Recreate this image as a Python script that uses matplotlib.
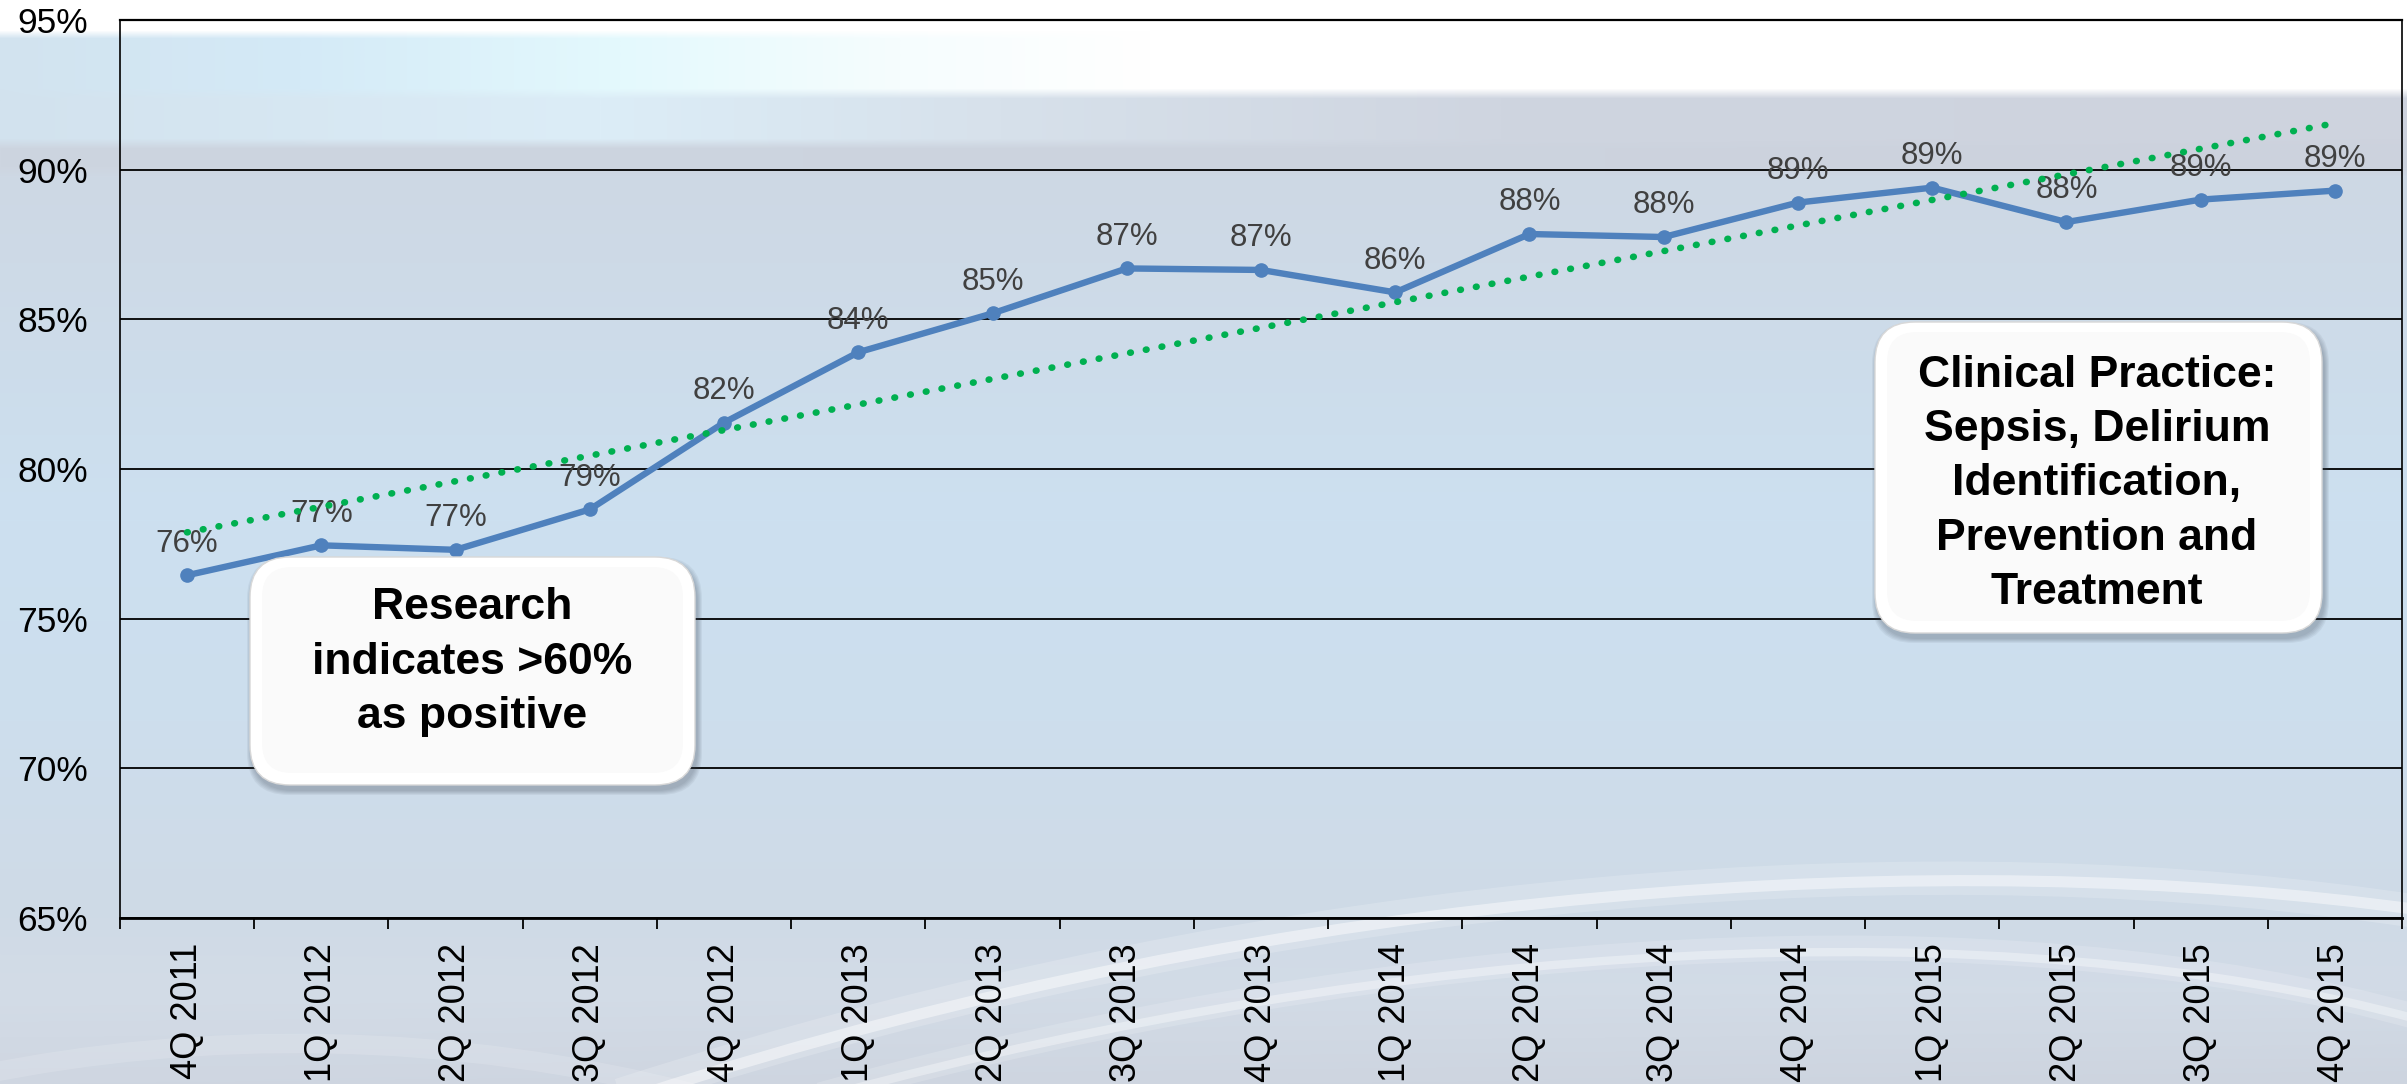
import numpy as np
import matplotlib
matplotlib.use('Agg')
import matplotlib.pyplot as plt
from matplotlib.patches import FancyBboxPatch, PathPatch
from matplotlib.path import Path

plt.rcParams['font.family'] = ['Liberation Sans', 'DejaVu Sans']

# data
quarters = ['4Q 2011', '1Q 2012', '2Q 2012', '3Q 2012', '4Q 2012', '1Q 2013',
            '2Q 2013', '3Q 2013', '4Q 2013', '1Q 2014', '2Q 2014', '3Q 2014',
            '4Q 2014', '1Q 2015', '2Q 2015', '3Q 2015', '4Q 2015']
scores = [76.45, 77.45, 77.3, 78.65, 81.55, 83.9, 85.2, 86.7, 86.65, 85.9,
          87.85, 87.75, 88.9, 89.4, 88.25, 89.0, 89.3]
y_ticks = [65, 70, 75, 80, 85, 90, 95]
note_left = 'Research\nindicates >60%\nas positive'
note_right = 'Clinical Practice:\nSepsis, Delirium\nIdentification,\nPrevention and\nTreatment'

W, H = 2407, 1084
fig = plt.figure(figsize=(W / 100, H / 100), dpi=100)


def hexrgb(h):
    return np.array([int(h[i:i + 2], 16) for i in (1, 3, 5)]) / 255.0


xs = np.arange(W)


def row_colors(stops):
    px = [s[0] for s in stops]
    cols = np.array([hexrgb(s[1]) for s in stops])
    return np.stack([np.interp(xs, px, cols[:, c]) for c in range(3)], axis=1)


# background: slide template gradient
white = row_colors([(0, '#FFFFFF'), (W, '#FFFFFF')])
top_band = row_colors([(0, '#D2E3EF'), (300, '#D4EAF7'), (620, '#E4F9FD'),
                       (900, '#F6FDFE'), (1150, '#FFFFFF'), (W, '#FFFFFF')])
mid_band = row_colors([(0, '#D2E2EE'), (600, '#DCEDF7'), (1000, '#D7E1EB'),
                       (1500, '#CFD5E0'), (W, '#CED3DE')])
gray_band = row_colors([(0, '#CDD5E0'), (W, '#CCD2DD')])
blue1 = row_colors([(0, '#CED8E4'), (W, '#CED8E4')])
blue2 = row_colors([(0, '#CDDCEA'), (W, '#CDDCEA')])
blue3 = row_colors([(0, '#CCE0F0'), (W, '#CCE0F0')])
blue4 = row_colors([(0, '#CDDEED'), (W, '#CDDEED')])
blue5 = row_colors([(0, '#CFDAE6'), (W, '#CFDAE6')])
blue6 = row_colors([(0, '#D3DCE7'), (W, '#D2DBE6')])
blue7 = row_colors([(0, '#CFD6E1'), (W, '#CDD4DF')])

band_y = [0, 30, 38, 88, 98, 138, 148, 166, 176, 350, 520, 720, 918, 990, 1084]
band_c = [white, white, top_band, top_band, mid_band, mid_band, gray_band,
          gray_band, blue1, blue2, blue3, blue4, blue5, blue6, blue7]

img = np.zeros((H, W, 3))
for y in range(H):
    k = np.searchsorted(band_y, y, side='right') - 1
    k = min(k, len(band_y) - 2)
    t = (y - band_y[k]) / (band_y[k + 1] - band_y[k])
    img[y] = (1 - t) * band_c[k] + t * band_c[k + 1]

bg = fig.add_axes([0, 0, 1, 1])
bg.imshow(img, extent=(0, W, H, 0), aspect='auto')
bg.set_xlim(0, W)
bg.set_ylim(H, 0)
bg.axis('off')

# white swooshes at the bottom of the template
swooshes = [
    # (p0, p1, p2, p3, width_pt, alpha)
    ((620, 1095), (1300, 875), (1950, 840), (2420, 912), 24, 0.18),
    ((640, 1095), (1300, 880), (1950, 845), (2420, 910), 8, 0.45),
    ((820, 1095), (1400, 935), (2000, 900), (2420, 1018), 18, 0.16),
    ((830, 1095), (1400, 940), (2000, 905), (2420, 1020), 6, 0.35),
    ((-20, 1075), (200, 1030), (450, 1030), (700, 1095), 14, 0.14),
]
codes = [Path.MOVETO, Path.CURVE4, Path.CURVE4, Path.CURVE4]
for p0, p1, p2, p3, lw, a in swooshes:
    path = Path([p0, p1, p2, p3], codes)
    bg.add_patch(PathPatch(path, fill=False, edgecolor='white', lw=lw, alpha=a,
                           capstyle='butt'))

# main chart
left, right, top, bottom = 120, 2402, 20, 918
ax = fig.add_axes([left / W, 1 - bottom / H, (right - left) / W, (bottom - top) / H])
ax.patch.set_alpha(0)

x = np.arange(len(quarters))
ax.plot(x, scores, color='#4F81BD', lw=4.6, marker='o', ms=9.5, zorder=3,
        solid_joinstyle='round')

# linear trendline (Excel style least squares)
slope, icpt = np.polyfit(x, scores, 1)
trend = slope * x + icpt
ax.plot(x, trend, color='#00B050', lw=4.8, linestyle=(0, (0.1, 2.3)),
        dash_capstyle='round', zorder=4)

for i, v in enumerate(scores):
    ax.annotate(f'{round(v):.0f}%', (i, v), xytext=(0, 17), textcoords='offset points',
                ha='center', va='baseline', fontsize=22.5, color='#404040', zorder=3.5)

ax.set_xlim(-0.5, len(quarters) - 0.5)
ax.set_ylim(65, 95)
ax.set_yticks(y_ticks)
ax.set_yticklabels([f'{v}%' for v in y_ticks])
ax.tick_params(axis='y', length=0, pad=23, labelsize=25.5, colors='black')
ax.yaxis.grid(True, color='black', lw=1.3)
ax.set_axisbelow(True)

ax.set_xticks(x)
ax.set_xticklabels(quarters, rotation=90, va='top', ha='center')
ax.tick_params(axis='x', which='major', length=0, pad=18, labelsize=26)
ax.set_xticks(np.arange(-0.5, len(quarters), 1), minor=True)
ax.tick_params(axis='x', which='minor', length=8, width=1.3, direction='out', color='black')

ax.spines['top'].set_linewidth(1.6)
ax.spines['bottom'].set_linewidth(2.0)
ax.spines['left'].set_linewidth(1.2)
ax.spines['right'].set_linewidth(1.2)
for s in ax.spines.values():
    s.set_color('black')

# callout boxes
ov = fig.add_axes([0, 0, 1, 1])
ov.patch.set_alpha(0)
ov.set_xlim(0, W)
ov.set_ylim(H, 0)
ov.axis('off')


def callout(x0, y0, x1, y1, txt, cx, cy):
    w, h = x1 - x0, y1 - y0
    for k in range(5):
        g = 2 + k * 2
        ov.add_patch(FancyBboxPatch((x0 + 2 - g / 2, y0 + 5 - g / 2), w + g, h + g,
                                    boxstyle='round,pad=0,rounding_size=42',
                                    fc='#404a58', ec='none', alpha=0.07))
    ov.add_patch(FancyBboxPatch((x0, y0), w, h, boxstyle='round,pad=0,rounding_size=40',
                                fc='#FFFFFF', ec='#D8D8D8', lw=1))
    ov.add_patch(FancyBboxPatch((x0 + 12, y0 + 10), w - 24, h - 22,
                                boxstyle='round,pad=0,rounding_size=30',
                                fc='#FAFAFA', ec='none'))
    ov.text(cx, cy, txt, ha='center', va='center', fontsize=32, fontweight='bold',
            color='black', linespacing=1.42)


callout(250, 557, 695, 785, note_left, 472, 662)
callout(1875, 322, 2322, 633, note_right, 2097, 484)

fig.savefig('out.png', dpi=100)
